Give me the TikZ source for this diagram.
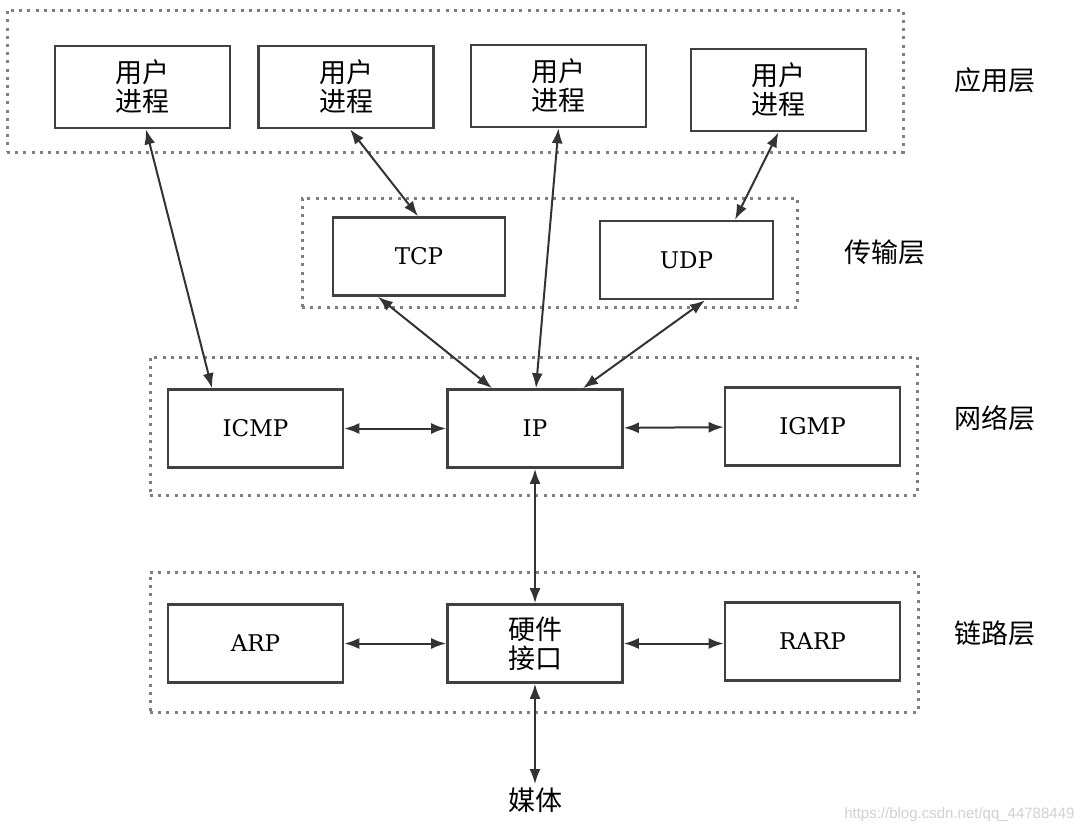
\documentclass[tikz,border=0pt]{standalone}
\usepackage{fontspec}
\setmainfont{DejaVu Serif}
\newfontfamily\cjk{Noto Sans CJK SC}
\newfontfamily\wm{Liberation Sans}
\usetikzlibrary{arrows.meta}

\begin{document}
\begin{tikzpicture}[
x=1pt, y=-1pt,
proc/.style = {draw=black!75,line width=2.6pt,minimum width=175,minimum height=78,
  inner sep=0pt,align=center,font=\fontsize{23}{27}\selectfont},
cn/.style = {font=\cjk\fontsize{27}{29}\selectfont},
layer/.style = {draw=black!50,line width=3pt,dash pattern=on 3pt off 5.2pt,inner sep=0pt},
edge/.style = {line width=2pt,black!80,{Latex[length=15pt,width=11pt]}-{Latex[length=15pt,width=11pt]}}
]
  \useasboundingbox (0,0) rectangle (1085,833);
  \fill[white] (0,0) rectangle (1085,833);

  % layers
  \node[layer,minimum width=896,minimum height=142] (appL) at (455,81) {};
  \node[layer,minimum width=495,minimum height=109] (traL) at (549.5,252.5) {};
  \node[layer,minimum width=767,minimum height=138] (netL) at (533.5,426) {};
  \node[layer,minimum width=768,minimum height=140] (linkL) at (534,642) {};

  \node[cn] (appT) at (995,80) {应用层};
  \node[cn] (traT) at (885,252) {传输层};
  \node[cn] (netT) at (995,418) {网络层};
  \node[cn] (linkT) at (995,633) {链路层};

  % boxes
  \node[proc,cn,minimum height=82] (u1) at (142.5,87) {用户\\进程};
  \node[proc,cn,minimum height=82] (u2) at (346,87) {用户\\进程};
  \node[proc,cn,minimum height=82] (u3) at (558.5,86) {用户\\进程};
  \node[proc,cn,minimum height=82] (u4) at (778.5,90) {用户\\进程};

  \node[proc,minimum width=172] (tcp) at (419,256.5) {TCP};
  \node[proc,minimum width=173] (udp) at (686.5,260) {UDP};

  \node[proc] (icmp) at (255.5,428.5) {ICMP};
  \node[proc] (ip) at (535,428.5) {IP};
  \node[proc] (igmp) at (812.5,426.5) {IGMP};

  \node[proc] (arp) at (255.5,643.5) {ARP};
  \node[proc,cn] (hw) at (535,643.5) {硬件\\接口};
  \node[proc] (rarp) at (812.5,641.5) {RARP};

  \node[cn] (media) at (535,800) {媒体};

  % arrows
  \draw[edge] ([xshift=3.5]u1.south) -- ([xshift=-43.5]icmp.north);
  \draw[edge] ([xshift=4]u2.south) -- ([xshift=-1]tcp.north);
  \draw[edge] (u3.south) -- ([xshift=1]ip.north);
  \draw[edge] (u4.south) -- ([xshift=48.5]udp.north);
  \draw[edge] ([xshift=-41]tcp.south) -- ([xshift=-43]ip.north);
  \draw[edge] ([xshift=18.5]udp.south) -- ([xshift=48]ip.north);
  \draw[edge] (icmp) -- (ip);
  \draw[edge] (ip) -- (igmp);
  \draw[edge] (ip) -- (hw);
  \draw[edge] (arp) -- (hw);
  \draw[edge] (hw) -- (rarp.west |- hw);
  \draw[edge] (hw) -- (media);

  \node[black!18,font=\wm\fontsize{15}{17}\selectfont,anchor=east] (mark) at (1078,815) {https://blog.csdn.net/qq\_44788449};
\end{tikzpicture}
\end{document}
